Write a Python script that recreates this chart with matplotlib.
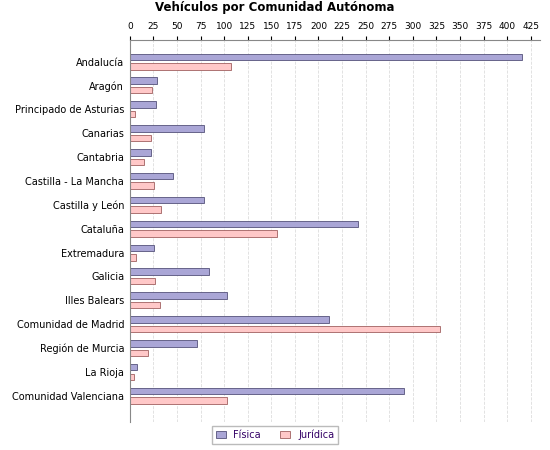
import matplotlib
matplotlib.use("Agg")
import matplotlib.pyplot as plt
import numpy as np

regions = ["Andalucía", "Aragón", "Principado de Asturias", "Canarias", "Cantabria",
           "Castilla - La Mancha", "Castilla y León", "Cataluña", "Extremadura", "Galicia",
           "Illes Balears", "Comunidad de Madrid", "Región de Murcia", "La Rioja",
           "Comunidad Valenciana"]
fisica = [416, 29, 28, 79, 23, 46, 79, 242, 26, 84, 103, 211, 71, 8, 291]
juridica = [107, 24, 6, 22, 15, 26, 33, 156, 7, 27, 32, 329, 19, 4, 103]

fig = plt.figure(figsize=(5.5, 4.5), dpi=100)
ax = fig.add_axes([0.236, 0.062, 0.746, 0.849])
y = np.arange(len(regions))
h = 0.27
ax.barh(y - 0.2, fisica, h, color="#aaa6d6", edgecolor="#55527a", linewidth=0.6, label="Física")
ax.barh(y + 0.2, juridica, h, color="#ffc8c8", edgecolor="#a06060", linewidth=0.6, label="Jurídica")
ax.set_ylim(len(regions) + 0.1, -0.9)
ax.set_xlim(0, 435)
ax.set_xticks(np.arange(0, 426, 25))
ax.xaxis.tick_top()
ax.tick_params(axis="x", labelsize=6.5, length=3)
ax.set_yticks(y)
ax.set_yticklabels(regions, fontsize=7)
ax.tick_params(axis="y", length=0, pad=4)
ax.grid(axis="x", color="#dddddd", linestyle="--", linewidth=0.6)
ax.set_axisbelow(True)
for s in ["right", "bottom"]:
    ax.spines[s].set_visible(False)
ax.spines["top"].set_color("#888888")
ax.spines["left"].set_color("#888888")
fig.suptitle("Vehículos por Comunidad Autónoma", fontsize=8.5, fontweight="bold", y=0.998)
leg = fig.legend(loc="lower center", bbox_to_anchor=(0.5, 0.003), ncol=2, fontsize=7,
                 frameon=True, fancybox=False, edgecolor="#aaaaaa", handlelength=1, handleheight=0.7)
for t in leg.get_texts():
    t.set_color("#330066")
fig.savefig("out.png")
